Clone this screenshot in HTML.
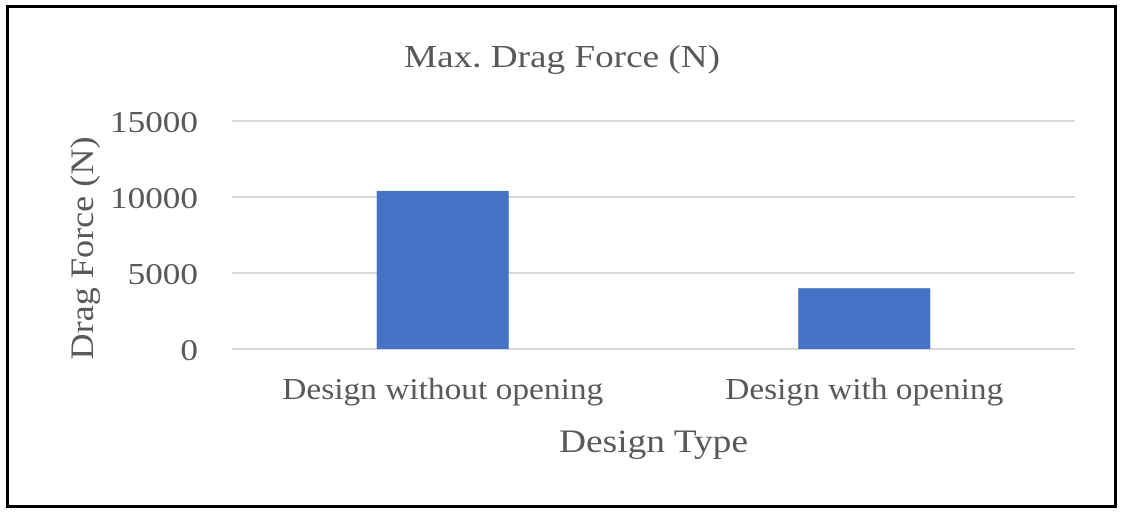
<!DOCTYPE html>
<html><head><meta charset="utf-8"><style>
html,body{margin:0;padding:0;background:#fff;}
svg{display:block;font-family:"Liberation Serif",serif;}
</style></head><body>
<svg id="chart" width="1122" height="512">
<rect x="7.5" y="6.5" width="1108" height="500" fill="#fff" stroke="#000" stroke-width="3"/>
<text x="562" y="67" font-size="32" fill="#595959" text-anchor="middle" textLength="316" lengthAdjust="spacingAndGlyphs">Max. Drag Force (N)</text>
<g id="grid"></g>
<g id="bars"></g>
<g id="labels"></g>
<text x="653.5" y="452" font-size="33" fill="#595959" text-anchor="middle" textLength="189" lengthAdjust="spacingAndGlyphs">Design Type</text>
<text transform="translate(93,248) rotate(-90)" font-size="33" fill="#595959" text-anchor="middle" textLength="223" lengthAdjust="spacingAndGlyphs">Drag Force (N)</text>
</svg>
<script>
const categories = ["Design without opening", "Design with opening"];
const values = [10400, 4000];
const ticks = [0, 5000, 10000, 15000];
const NS = "http://www.w3.org/2000/svg";
const x0 = 232, x1 = 1075, yBase = 349, yTop = 121, vMax = 15000;
function yScale(v){ return yBase - (v / vMax) * (yBase - yTop); }
const band = (x1 - x0) / categories.length;
function xCenter(i){ return x0 + band * (i + 0.5); }
const barW = 132;
const catLen = [321, 278];
const grid = document.getElementById('grid');
ticks.forEach(t => {
  const l = document.createElementNS(NS, 'line');
  l.setAttribute('x1', x0); l.setAttribute('x2', x1);
  l.setAttribute('y1', yScale(t)); l.setAttribute('y2', yScale(t));
  l.setAttribute('stroke', '#d9d9d9'); l.setAttribute('stroke-width', '2');
  
  
  grid.appendChild(l);
  const tx = document.createElementNS(NS, 'text');
  tx.setAttribute('x', 198); tx.setAttribute('y', yScale(t) + 11);
  tx.setAttribute('text-anchor', 'end'); tx.setAttribute('font-size', '31');
  tx.setAttribute('fill', '#595959');
  tx.setAttribute('textLength', String(t).length * 17.6);
  tx.setAttribute('lengthAdjust', 'spacingAndGlyphs');
  tx.textContent = t;
  
  
  grid.appendChild(tx);
});
const bars = document.getElementById('bars');
const labels = document.getElementById('labels');
values.forEach((v, i) => {
  const r = document.createElementNS(NS, 'rect');
  r.setAttribute('x', xCenter(i) - barW / 2);
  r.setAttribute('y', yScale(v));
  r.setAttribute('width', barW);
  r.setAttribute('height', yBase - yScale(v));
  r.setAttribute('fill', '#4472C4');
  
  
  bars.appendChild(r);
  const t = document.createElementNS(NS, 'text');
  t.setAttribute('x', xCenter(i)); t.setAttribute('y', 399);
  t.setAttribute('text-anchor', 'middle'); t.setAttribute('font-size', '31');
  t.setAttribute('fill', '#595959');
  t.setAttribute('textLength', catLen[i]);
  t.setAttribute('lengthAdjust', 'spacingAndGlyphs');
  t.textContent = categories[i];
  
  
  labels.appendChild(t);
});
</script>
</body></html>
